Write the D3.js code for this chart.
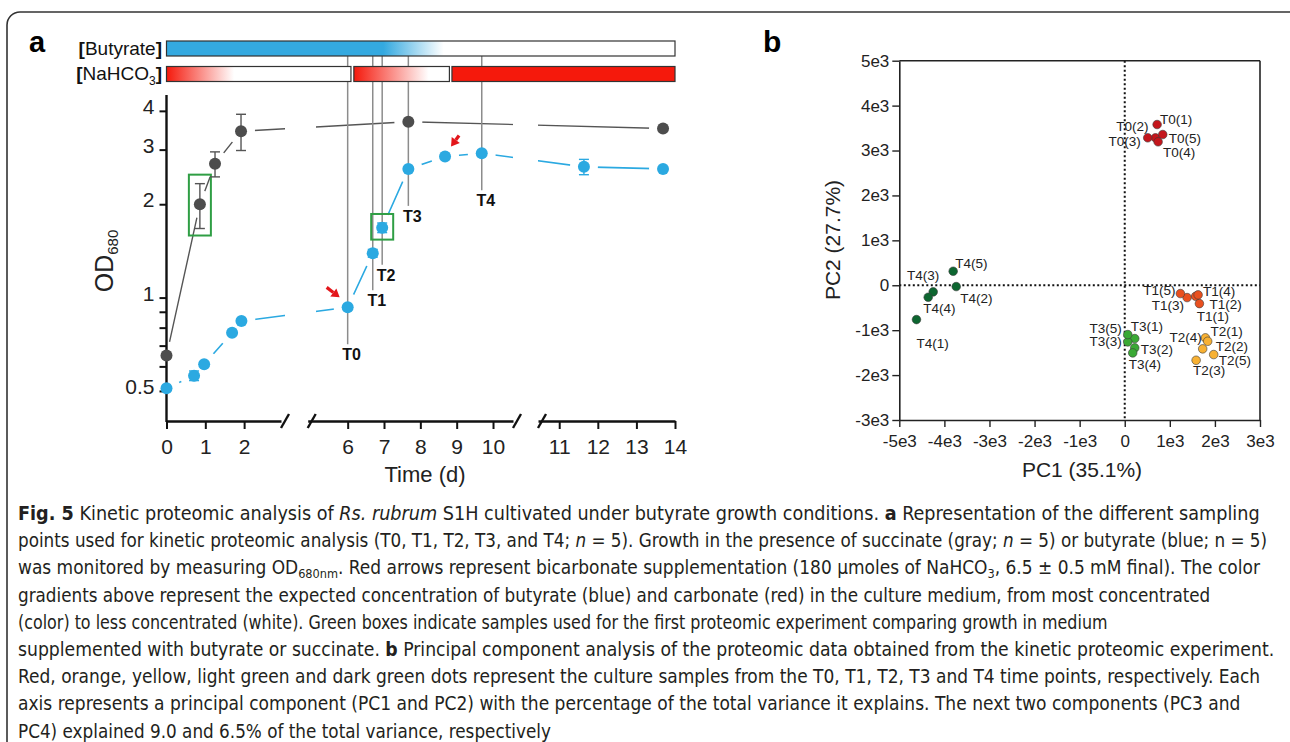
<!DOCTYPE html>
<html>
<head>
<meta charset="utf-8">
<script src="https://cdn.jsdelivr.net/npm/d3@7"></script>
<style>
  body { margin: 0; background: #fff; }
  svg text { font-family: "Liberation Sans", Arial, sans-serif; }
  .caption text { font-family: "Liberation Sans Narrow", "DejaVu Sans Condensed", "Liberation Sans", sans-serif; }
</style>
</head>
<body>
<svg id="fig" width="1290" height="742"></svg>
<script>
// ---------- panel a : growth curves ----------
const succinateDays = [0, 0.86, 1.25, 1.92, 7.67, 13.69];
const succinateOD   = [0.65, 2.00, 2.70, 3.44, 3.69, 3.51];
const succinateSD   = [0, 0.33, 0.25, 0.46, 0, 0];

const butyrateDays = [0, 0.71, 0.97, 1.69, 1.93, 6.0, 6.69, 6.95, 7.67, 8.68, 9.69, 11.64, 13.69];
const butyrateOD   = [0.51, 0.56, 0.61, 0.77, 0.84, 0.93, 1.39, 1.68, 2.60, 2.85, 2.92, 2.64, 2.60];
const butyrateSD   = [0, 0.02, 0.01, 0, 0, 0, 0.04, 0.06, 0, 0, 0, 0.15, 0];

const samplingNames = ["T0", "T1", "T2", "T3", "T4"];
const samplingDays  = [6.0, 6.69, 6.95, 7.67, 9.69];
const bicarbonateDays = [6.0, 8.68];          // red arrows
const greenBoxDays = { succinate: 0.86, butyrate: 6.95 };

const xTickGroups = [[0, 1, 2], [6, 7, 8, 9, 10], [11, 12, 13, 14]];
const yTicksMajor = [0.5, 1, 2, 3, 4];
const yTicksMinor = [0.6, 0.7, 0.8, 0.9];

// concentration bars above the plot (in days)
const butyrateFade = [6.98, 8.64];
const nahco3Start  = [0, 6.17, 8.87];
const nahco3End    = [6.09, 8.80, 14];
const nahco3FadeTo = [1.74, 8.23, null];

// ---------- panel b : PCA scores, replicates (1)..(5) ----------
const pcaGroups = ["T0", "T1", "T2", "T3", "T4"];
const pcaColors = ["#c4161c", "#e9501f", "#f8b133", "#3aa935", "#0d6630"];
const pc1T0 = [718, 681, 510, 740, 843];
const pc2T0 = [3579, 3283, 3283, 3194, 3356];
const pc1T1 = [1574, 1656, 1383, 1627, 1235];
const pc2T1 = [-245, -408, -274, -214, -185];
const pc1T2 = [1789, 1840, 1583, 1729, 1973];
const pc2T2 = [-1171, -1247, -1670, -1416, -1543];
const pc1T3 = [222, 222, 67, 177, 67];
const pc2T3 = [-1187, -1394, -1261, -1506, -1098];
const pc1T4 = [-4619, -3738, -4248, -4359, -3805];
const pc2T4 = [-764, -29, -147, -267, 312];
const pcTicks = [-5000, -4000, -3000, -2000, -1000, 0, 1000, 2000, 3000];
const pcTicksY = [-3000, -2000, -1000, 0, 1000, 2000, 3000, 4000, 5000];

const svg = d3.select("#fig");

// figure frame
svg.append("rect").attr("x", 7).attr("y", 12).attr("width", 1320).attr("height", 800)
  .attr("rx", 13).attr("fill", "none").attr("stroke", "#333").attr("stroke-width", 1.6);

svg.append("text").attr("x", 29).attr("y", 52).attr("font-size", 29).attr("font-weight", "bold").text("a");
svg.append("text").attr("x", 763).attr("y", 52).attr("font-size", 30).attr("font-weight", "bold").text("b");

// ================= panel a =================
const segs = [
  { domain: [0, 2.95],     range: [166.5, 281] },
  { domain: [4.9, 10.55],  range: [307.7, 513] },
  { domain: [10.45, 14],   range: [538, 675] }
];
segs.forEach(s => s.scale = d3.scaleLinear().domain(s.domain).range(s.range));
function xPos(day) {
  const s = segs.find(s => day <= s.domain[1] + 1e-9) || segs[segs.length - 1];
  return s.scale(day);
}
const y = d3.scaleLog().domain([0.4, 4.5]).range([421, 95]);

const succ = succinateDays.map((d, i) => ({ day: d, od: succinateOD[i], sd: succinateSD[i] }));
const buty = butyrateDays.map((d, i) => ({ day: d, od: butyrateOD[i], sd: butyrateSD[i] }));
const gray = "#4d4d4d", blue = "#2ba9e1";

const defs = svg.append("defs");
const clip = defs.append("clipPath").attr("id", "segclip");
[[150, 285], [316, 513], [538, 690]].forEach(r =>
  clip.append("rect").attr("x", r[0]).attr("y", 85).attr("width", r[1] - r[0]).attr("height", 345));

const line = d3.line().x(d => xPos(d.day)).y(d => y(d.od));
const gA = svg.append("g");

gA.append("path").datum(succ).attr("d", line).attr("clip-path", "url(#segclip)")
  .attr("fill", "none").attr("stroke", "#555").attr("stroke-width", 1.4);
gA.append("path").datum(buty).attr("d", line).attr("clip-path", "url(#segclip)")
  .attr("fill", "none").attr("stroke", blue).attr("stroke-width", 1.6);

// white halos so the connecting lines stop short of the markers
gA.selectAll("circle.halo").data(succ.concat(buty)).join("circle").attr("class", "halo")
  .attr("cx", d => xPos(d.day)).attr("cy", d => y(d.od)).attr("r", 14).attr("fill", "#fff");

// sampling lines T0..T4
const sampling = samplingNames.map((n, i) => {
  const b = buty.find(p => Math.abs(p.day - samplingDays[i]) < 1e-6);
  return { name: n, day: samplingDays[i], od: b.od };
});
gA.selectAll("line.tline").data(sampling).join("line").attr("class", "tline")
  .attr("x1", d => xPos(d.day)).attr("x2", d => xPos(d.day))
  .attr("y1", 56).attr("y2", d => y(d.od) + 37)
  .attr("stroke", "#8c8c8c").attr("stroke-width", 1.5);
gA.selectAll("text.tlab").data(sampling).join("text").attr("class", "tlab")
  .attr("x", d => xPos(d.day) + 4).attr("y", d => y(d.od) + 53)
  .attr("text-anchor", "middle").attr("font-size", 16).attr("font-weight", "bold").attr("fill", "#111")
  .text(d => d.name);

// green boxes
[[succ, greenBoxDays.succinate], [buty, greenBoxDays.butyrate]].forEach(([ser, day]) => {
  const p = ser.find(q => Math.abs(q.day - day) < 1e-6);
  const top = y(p.od + p.sd) - 9, bot = y(p.od - p.sd) + 7;
  gA.append("rect").attr("x", xPos(day) - 11).attr("y", top).attr("width", 22).attr("height", bot - top)
    .attr("fill", "none").attr("stroke", "#2f9e44").attr("stroke-width", 2);
});

// axes
const yAxis = d3.axisLeft(y).tickValues(yTicksMajor.concat(yTicksMinor))
  .tickFormat(d => yTicksMajor.includes(d) ? d3.format("")(d) : "").tickSize(7).tickSizeOuter(0);
const gy = gA.append("g").attr("transform", "translate(166.5,0)").call(yAxis);
gy.select(".domain").remove();
gy.selectAll(".tick line").attr("stroke", "#111").attr("stroke-width", 2);
gy.selectAll(".tick text").attr("font-size", 21).attr("fill", "#222").attr("x", -12).attr("dy", "0.12em");
gA.append("line").attr("x1", 166.5).attr("x2", 166.5).attr("y1", 95).attr("y2", 422)
  .attr("stroke", "#111").attr("stroke-width", 2.4);

segs.forEach((s, i) => {
  const g = gA.append("g").attr("transform", "translate(0,421)")
    .call(d3.axisBottom(s.scale).tickValues(xTickGroups[i]).tickFormat(d3.format("d")).tickSize(8).tickSizeOuter(0));
  g.select(".domain").attr("stroke", "#111").attr("stroke-width", 2.4);
  g.selectAll(".tick line").attr("stroke", "#111").attr("stroke-width", 2);
  g.selectAll(".tick text").attr("font-size", 21).attr("fill", "#222").attr("y", 18);
});
// break marks
[segs[0].range[1], segs[1].range[0], segs[1].range[1], segs[2].range[0]].forEach(x =>
  gA.append("line").attr("x1", x).attr("y1", 428).attr("x2", x + 8).attr("y2", 414)
    .attr("stroke", "#111").attr("stroke-width", 2.4));

gA.append("text").attr("x", 425).attr("y", 482).attr("text-anchor", "middle")
  .attr("font-size", 22).attr("fill", "#222").text("Time (d)");
const odLab = gA.append("text").attr("transform", "translate(113,261) rotate(-90)")
  .attr("text-anchor", "middle").attr("font-size", 25).attr("fill", "#222");
odLab.append("tspan").text("OD");
odLab.append("tspan").attr("font-size", 15).attr("dy", 5).text("680");

// error bars
function errorBars(ser, color) {
  const e = ser.filter(d => d.sd > 0);
  gA.selectAll(null).data(e).join("line")
    .attr("x1", d => xPos(d.day)).attr("x2", d => xPos(d.day))
    .attr("y1", d => y(d.od + d.sd)).attr("y2", d => y(d.od - d.sd))
    .attr("stroke", color).attr("stroke-width", 1.4);
  [1, -1].forEach(sg => gA.selectAll(null).data(e).join("line")
    .attr("x1", d => xPos(d.day) - 5).attr("x2", d => xPos(d.day) + 5)
    .attr("y1", d => y(d.od + sg * d.sd)).attr("y2", d => y(d.od + sg * d.sd))
    .attr("stroke", color).attr("stroke-width", 1.4));
}
errorBars(succ, "#555");
errorBars(buty, blue);

gA.selectAll("circle.succ").data(succ).join("circle").attr("class", "succ")
  .attr("cx", d => xPos(d.day)).attr("cy", d => y(d.od)).attr("r", 6).attr("fill", gray);
gA.selectAll("circle.buty").data(buty).join("circle").attr("class", "buty")
  .attr("cx", d => xPos(d.day)).attr("cy", d => y(d.od)).attr("r", 6).attr("fill", blue);

// red arrows (bicarbonate supplementation)
function arrow(tx, ty, hx, hy) {
  const a = Math.atan2(hy - ty, hx - tx), L = 8, W = 5;
  const bx = hx - L * Math.cos(a), by = hy - L * Math.sin(a);
  gA.append("line").attr("x1", tx).attr("y1", ty).attr("x2", bx).attr("y2", by)
    .attr("stroke", "#e3161b").attr("stroke-width", 3.2);
  const px = -Math.sin(a) * W, py = Math.cos(a) * W;
  gA.append("path").attr("d", `M${hx},${hy}L${bx + px},${by + py}L${bx - px},${by - py}Z`).attr("fill", "#e3161b");
}
const arrowVec = [[-21, -20, -8, -10], [14, -21, 6, -10]];
bicarbonateDays.forEach((day, i) => {
  const p = buty.find(q => Math.abs(q.day - day) < 1e-6);
  const cx = xPos(day), cy = y(p.od), v = arrowVec[i];
  arrow(cx + v[0], cy + v[1], cx + v[2], cy + v[3]);
});

// concentration bars
const x0 = xPos(0), x14 = xPos(14);
function grad(id, color, from, to, solidTo) {
  const g = defs.append("linearGradient").attr("id", id).attr("gradientUnits", "userSpaceOnUse")
    .attr("x1", from).attr("x2", to).attr("y1", 0).attr("y2", 0);
  g.append("stop").attr("offset", 0).attr("stop-color", color);
  g.append("stop").attr("offset", (solidTo - from) / (to - from)).attr("stop-color", color);
  g.append("stop").attr("offset", 1).attr("stop-color", "#fff");
}
grad("gBut", "#34a9e0", x0, xPos(butyrateFade[1]), xPos(butyrateFade[0]));
gA.append("rect").attr("x", x0).attr("y", 41).attr("width", x14 - x0).attr("height", 15)
  .attr("fill", "url(#gBut)").attr("stroke", "#333").attr("stroke-width", 1.2);
nahco3Start.forEach((s, i) => {
  const a = xPos(s), b = xPos(nahco3End[i]);
  let fill = "#f5190c";
  if (nahco3FadeTo[i] !== null) {
    grad("gNa" + i, "#f5190c", a, xPos(nahco3FadeTo[i]), a);
    fill = `url(#gNa${i})`;
  }
  gA.append("rect").attr("x", a).attr("y", 66.5).attr("width", b - a).attr("height", 15)
    .attr("fill", fill).attr("stroke", "#333").attr("stroke-width", 1.2);
});
const lb = gA.append("text").attr("x", 162).attr("y", 55).attr("text-anchor", "end").attr("font-size", 19).attr("fill", "#111");
lb.append("tspan").attr("font-weight", "bold").text("[");
lb.append("tspan").text("Butyrate");
lb.append("tspan").attr("font-weight", "bold").text("]");
const ln = gA.append("text").attr("x", 162).attr("y", 80).attr("text-anchor", "end").attr("font-size", 19).attr("fill", "#111");
ln.append("tspan").attr("font-weight", "bold").text("[");
ln.append("tspan").text("NaHCO");
ln.append("tspan").attr("font-size", 12).attr("dy", 5).text("3");
ln.append("tspan").attr("font-weight", "bold").attr("dy", -5).text("]");

// ================= panel b =================
const xP = d3.scaleLinear().domain([-5000, 3000]).range([899.3, 1260]);
const yP = d3.scaleLinear().domain([-3000, 5000]).range([420, 60.7]);
const gB = svg.append("g");
const fmt = d => d === 0 ? "0" : (d / 1000) + "e3";

gB.append("line").attr("x1", xP(0)).attr("x2", xP(0)).attr("y1", yP(5000)).attr("y2", yP(-3000))
  .attr("stroke", "#111").attr("stroke-width", 2).attr("stroke-dasharray", "2,2.5");
gB.append("line").attr("x1", xP(-5000)).attr("x2", xP(3000)).attr("y1", yP(0)).attr("y2", yP(0))
  .attr("stroke", "#111").attr("stroke-width", 2).attr("stroke-dasharray", "2,2.5");

const gbx = gB.append("g").attr("transform", `translate(0,${yP(-3000)})`)
  .call(d3.axisBottom(xP).tickValues(pcTicks).tickFormat(fmt).tickSize(7).tickSizeOuter(0));
const gby = gB.append("g").attr("transform", `translate(${xP(-5000)},0)`)
  .call(d3.axisLeft(yP).tickValues(pcTicksY).tickFormat(fmt).tickSize(7).tickSizeOuter(0));
[gbx, gby].forEach(g => {
  g.select(".domain").attr("stroke", "#222").attr("stroke-width", 1.6);
  g.selectAll(".tick line").attr("stroke", "#222").attr("stroke-width", 1.4);
  g.selectAll(".tick text").attr("font-size", 17).attr("fill", "#222");
});
gbx.selectAll(".tick text").attr("y", 15);
gby.selectAll(".tick text").attr("x", -10);
gB.append("line").attr("x1", xP(-5000)).attr("x2", xP(3000)).attr("y1", yP(5000)).attr("y2", yP(5000))
  .attr("stroke", "#222").attr("stroke-width", 1.6);
gB.append("line").attr("x1", xP(3000)).attr("x2", xP(3000)).attr("y1", yP(5000)).attr("y2", yP(-3000))
  .attr("stroke", "#222").attr("stroke-width", 1.6);

gB.append("text").attr("x", 1082).attr("y", 477).attr("text-anchor", "middle").attr("font-size", 21)
  .attr("fill", "#222").text("PC1 (35.1%)");
gB.append("text").attr("transform", "translate(840,240) rotate(-90)").attr("text-anchor", "middle")
  .attr("font-size", 21).attr("fill", "#222").text("PC2 (27.7%)");

const pc1 = [pc1T0, pc1T1, pc1T2, pc1T3, pc1T4];
const pc2 = [pc2T0, pc2T1, pc2T2, pc2T3, pc2T4];
const samples = [];
pcaGroups.forEach((g, gi) => pc1[gi].forEach((v, r) =>
  samples.push({ group: g, rep: r + 1, pc1: v, pc2: pc2[gi][r], color: pcaColors[gi] })));

// label placement [dx, dy, anchor] for each sample label, by group then replicate
const labelPlace = {
  T0: [[3, -1, "start"], [-7, -7, "end"], [-7, 8, "end"], [5, 15, "start"], [6, 8, "start"]],
  T1: [[1, 25, "start"], [10, 5, "start"], [-3, 12, "end"], [5, 1, "start"], [-5, 1, "end"]],
  T2: [[5, -2, "start"], [8, 10, "start"], [-3, 15, "start"], [-1, -7, "end"], [5, 10, "start"]],
  T3: [[-4, -8, "start"], [6, 6, "start"], [-6, 4, "end"], [-4, 16, "start"], [-6, -2, "end"]],
  T4: [[0, 28, "start"], [4, 16, "start"], [-10, -12, "middle"], [-5, 16, "start"], [2, -3, "start"]]
};

gB.selectAll("circle.pca").data(samples).join("circle").attr("class", "pca")
  .attr("cx", d => xP(d.pc1)).attr("cy", d => yP(d.pc2)).attr("r", 4.3)
  .attr("fill", d => d.color).attr("stroke", "#3a3a3a").attr("stroke-width", 0.6);
gB.selectAll("text.pcal").data(samples).join("text").attr("class", "pcal")
  .attr("x", d => xP(d.pc1) + labelPlace[d.group][d.rep - 1][0])
  .attr("y", d => yP(d.pc2) + labelPlace[d.group][d.rep - 1][1])
  .attr("text-anchor", d => labelPlace[d.group][d.rep - 1][2])
  .attr("font-size", 13.5).attr("fill", "#222")
  .text(d => `${d.group}(${d.rep})`);

// ================= caption =================
const captionLines = [
  [["Fig. 5", "b"], [" Kinetic proteomic analysis of "], ["Rs. rubrum", "i"], [" S1H cultivated under butyrate growth conditions. "], ["a", "b"], [" Representation of the different sampling"]],
  [["points used for kinetic proteomic analysis (T0, T1, T2, T3, and T4; "], ["n", "i"], [" = 5). Growth in the presence of succinate (gray; "], ["n", "i"], [" = 5) or butyrate (blue; n = 5)"]],
  [["was monitored by measuring OD"], ["680nm", "sub"], [". Red arrows represent bicarbonate supplementation (180 µmoles of NaHCO"], ["3", "sub"], [", 6.5 ± 0.5 mM final). The color"]],
  [["gradients above represent the expected concentration of butyrate (blue) and carbonate (red) in the culture medium, from most concentrated"]],
  [["(color) to less concentrated (white). Green boxes indicate samples used for the first proteomic experiment comparing growth in medium"]],
  [["supplemented with butyrate or succinate. "], ["b", "b"], [" Principal component analysis of the proteomic data obtained from the kinetic proteomic experiment."]],
  [["Red, orange, yellow, light green and dark green dots represent the culture samples from the T0, T1, T2, T3 and T4 time points, respectively. Each"]],
  [["axis represents a principal component (PC1 and PC2) with the percentage of the total variance it explains. The next two components (PC3 and"]],
  [["PC4) explained 9.0 and 6.5% of the total variance, respectively"]]
];
const captionEnds = [1260, 1268, 1261, 1211, 1108, 1275, 1261, 1241, 551];
const gC = svg.append("g").attr("class", "caption");
captionLines.forEach((runs, i) => {
  const t = gC.append("text").attr("x", 0).attr("y", 0).attr("font-size", 19.5).attr("fill", "#231f20");
  let shifted = false;
  runs.forEach(([txt, st]) => {
    const ts = t.append("tspan").text(txt);
    if (st === "b") ts.attr("font-weight", "bold");
    if (st === "i") ts.attr("font-style", "italic");
    if (st === "sub") { ts.attr("font-size", 13).attr("dy", 4); shifted = true; }
    else if (shifted) { ts.attr("dy", -4); shifted = false; }
  });
  const w = t.node().getComputedTextLength();
  const sx = (captionEnds[i] - 18) / w;
  t.attr("transform", `translate(18,${520 + i * 27.2}) scale(${sx},1)`);
});
</script>
</body>
</html>
